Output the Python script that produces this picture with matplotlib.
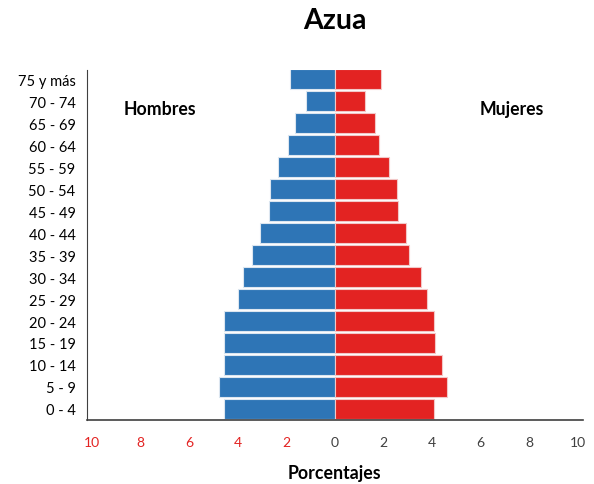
import matplotlib.pyplot as plt
import numpy as np

plt.rcParams['font.family'] = ['Lato', 'DejaVu Sans']

grupos = ['0 - 4', '5 - 9', '10 - 14', '15 - 19', '20 - 24', '25 - 29', '30 - 34',
          '35 - 39', '40 - 44', '45 - 49', '50 - 54', '55 - 59', '60 - 64',
          '65 - 69', '70 - 74', '75 y más']
hombres = [4.56, 4.76, 4.56, 4.56, 4.56, 3.98, 3.76, 3.41, 3.08, 2.72, 2.67,
           2.35, 1.93, 1.63, 1.20, 1.85]
mujeres = [4.07, 4.63, 4.42, 4.11, 4.07, 3.79, 3.53, 3.07, 2.92, 2.60, 2.55,
           2.23, 1.82, 1.66, 1.23, 1.92]
ticks = [-10, -8, -6, -4, -2, 0, 2, 4, 6, 8, 10]

azul = '#2E75B6'
rojo = '#E32322'

fig = plt.figure(figsize=(5.94, 4.85), dpi=100)
ax = fig.add_axes([0.146, 0.1326, 0.835, 0.721])

y = np.arange(len(grupos))
ax.barh(y, -np.array(hombres), height=0.91, color=azul, edgecolor='#dce6f0', linewidth=0.8)
ax.barh(y, mujeres, height=0.91, color=rojo, edgecolor='#f2c8c8', linewidth=0.8)

ax.set_xlim(-10.2, 10.2)
ax.set_ylim(-0.49, 15.42)
ax.set_yticks(y)
ax.set_yticklabels(grupos, fontsize=10.5)
ax.set_xticks(ticks)
ax.set_xticklabels([str(abs(t)) for t in ticks], fontsize=10)
for t, lab in zip(ticks, ax.get_xticklabels()):
    lab.set_color(rojo if t < 0 else '#404040')
ax.tick_params(axis='both', length=0)
ax.tick_params(axis='x', pad=12)
ax.tick_params(axis='y', pad=8)

for s in ['top', 'right']:
    ax.spines[s].set_visible(False)
ax.spines['left'].set_color('#404040')
ax.spines['bottom'].set_color('#404040')
ax.spines['bottom'].set_linewidth(1.2)

ax.text(-7.17, 13.65, 'Hombres', fontsize=12.7, fontweight='bold', ha='center', va='center')
ax.text(7.27, 13.65, 'Mujeres', fontsize=12.7, fontweight='bold', ha='center', va='center')
ax.set_xlabel('Porcentajes', fontsize=12.8, fontweight='bold', labelpad=11)

fig.text(0.564, 0.957, 'Azua', fontsize=20.5, fontweight='bold', ha='center', va='center')

fig.savefig('out.png', dpi=100)
